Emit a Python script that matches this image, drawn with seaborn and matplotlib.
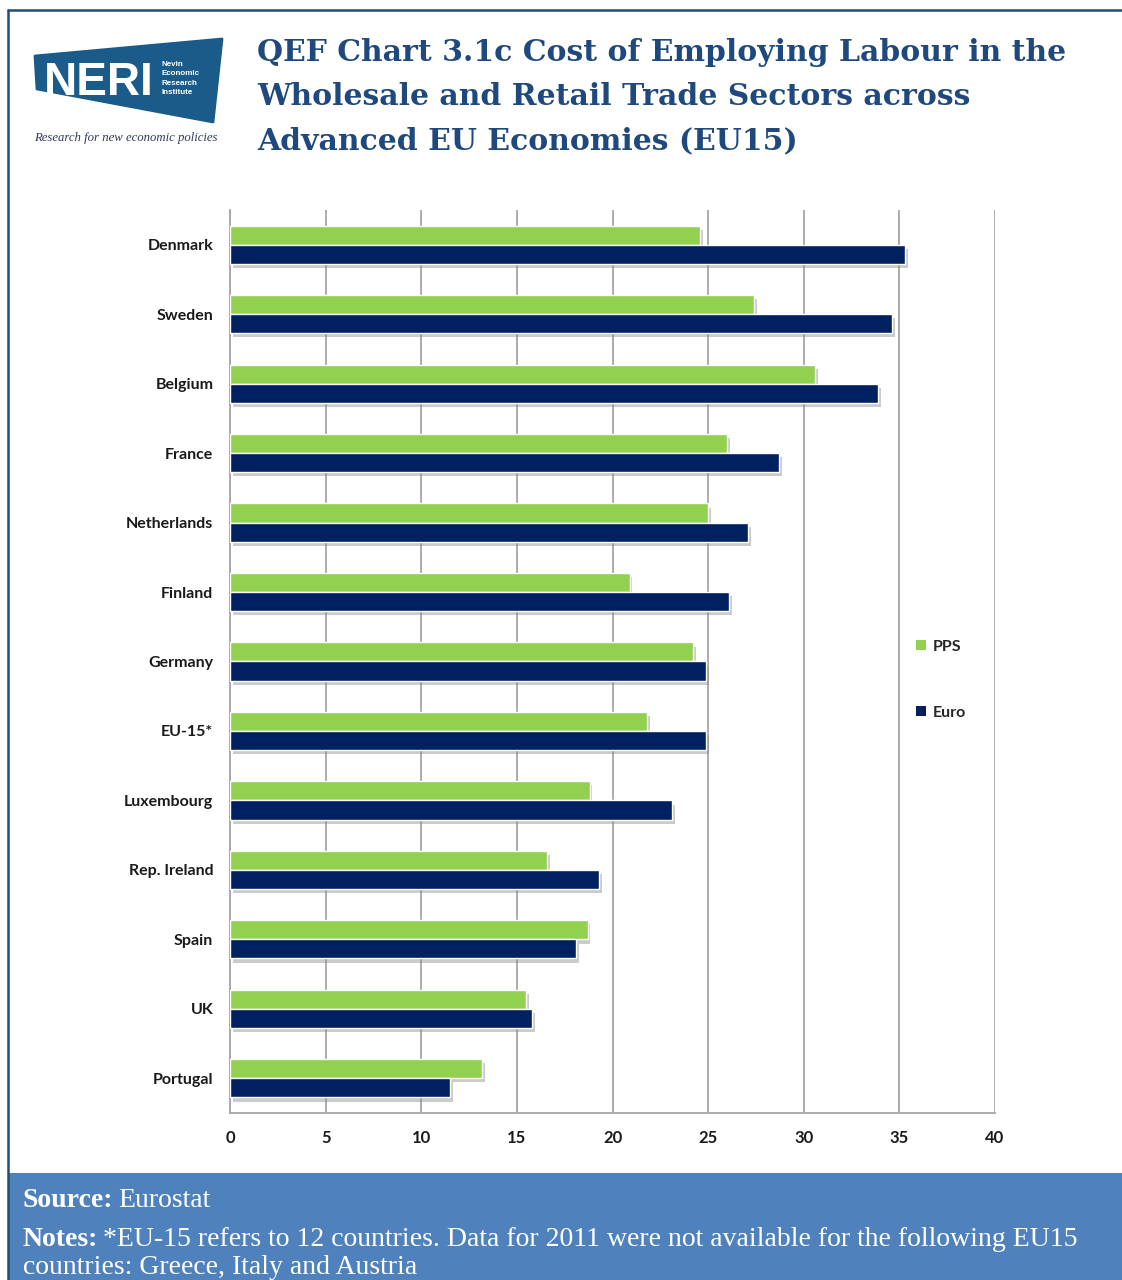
import matplotlib
matplotlib.use("Agg")
import matplotlib.pyplot as plt
import matplotlib.patheffects as pe
from matplotlib.patches import Polygon, Rectangle, Patch
from matplotlib.lines import Line2D
import seaborn as sns
import pandas as pd
import numpy as np

# ---------------- data ----------------
countries = ["Denmark", "Sweden", "Belgium", "France", "Netherlands", "Finland",
             "Germany", "EU-15*", "Luxembourg", "Rep. Ireland", "Spain", "UK", "Portugal"]
pps = [24.6, 27.4, 30.6, 26.0, 25.0, 20.9, 24.2, 21.8, 18.8, 16.6, 18.7, 15.5, 13.2]
euro = [35.3, 34.6, 33.9, 28.7, 27.1, 26.1, 24.9, 24.9, 23.1, 19.3, 18.1, 15.8, 11.5]
series_names = ["PPS", "Euro"]
x_ticks = [0, 5, 10, 15, 20, 25, 30, 35, 40]

title_lines = ["QEF Chart 3.1c Cost of Employing Labour in the",
               "Wholesale and Retail Trade Sectors across",
               "Advanced EU Economies (EU15)"]

GREEN = "#92D050"
NAVY = "#002060"
GRID = "#A6A6A6"
TITLE_C = "#1F497D"
FOOT_C = "#4F81BD"

df = pd.DataFrame({"Country": countries, "PPS": pps, "Euro": euro})
long = df.melt(id_vars="Country", value_vars=series_names, var_name="Measure", value_name="Value")

sns.set_style("white")
plt.rcParams["font.family"] = ["Lato", "DejaVu Sans"]

W, H = 1122, 1280
fig = plt.figure(figsize=(W / 100, H / 100), dpi=100)

ax = fig.add_axes([230 / W, 1 - 1113 / H, (995 - 230) / W, (1113 - 210) / H])
sns.barplot(data=long, y="Country", x="Value", hue="Measure", hue_order=series_names,
            order=countries, palette=[GREEN, NAVY], orient="h", width=0.55, saturation=1,
            edgecolor="white", linewidth=1.0, legend=False, ax=ax, zorder=3)

for p in ax.patches:
    p.set_path_effects([pe.SimplePatchShadow(offset=(2, -3), shadow_rgbFace="#8c8c8c", alpha=0.45),
                        pe.Normal()])

ax.set_xlim(0, 40)
ax.set_ylim(len(countries) - 0.5, -0.5)
ax.set_xticks(x_ticks)
ax.set_xticklabels([str(t) for t in x_ticks])
ax.set_axisbelow(True)
ax.xaxis.grid(True, color=GRID, lw=1.3)
ax.yaxis.grid(False)
ax.set_xlabel("")
ax.set_ylabel("")
for s in ["top", "right"]:
    ax.spines[s].set_visible(False)
for s in ["left", "bottom"]:
    ax.spines[s].set_color(GRID)
    ax.spines[s].set_linewidth(1.3)

ax.set_yticks(np.arange(len(countries)))
ax.set_yticklabels(countries)
ax.set_yticks(np.arange(len(countries) + 1) - 0.5, minor=True)
ax.tick_params(axis="y", which="major", length=0, pad=12, labelsize=11.5, labelcolor="#1a1a1a")
ax.tick_params(axis="y", which="minor", length=4, width=1.2, color=GRID, direction="out")
ax.tick_params(axis="x", which="major", length=4, width=1.2, color=GRID, direction="out",
               pad=8, labelsize=12, labelcolor="#1a1a1a")
for lab in ax.get_yticklabels() + ax.get_xticklabels():
    lab.set_fontweight("bold")

handles = [Patch(facecolor=GREEN, edgecolor="none"), Patch(facecolor=NAVY, edgecolor="none")]
ax.legend(handles, series_names, loc="center left", bbox_to_anchor=(0.897, 0.48),
          frameon=False, handlelength=0.6, handleheight=0.6, handletextpad=0.45,
          labelspacing=3.25, borderaxespad=0, borderpad=0,
          prop={"family": ["Lato", "DejaVu Sans"], "weight": "bold", "size": 11.5})

# --------------- overlay in pixel coordinates ---------------
ov = fig.add_axes([0, 0, 1, 1])
ov.set_xlim(0, W)
ov.set_ylim(H, 0)
ov.axis("off")

# border
ov.add_line(Line2D([8, W], [10, 10], color="#1F4E79", lw=1.8))
ov.add_line(Line2D([8, 8], [10, H], color="#1F4E79", lw=1.8))

# logo
ov.add_patch(Polygon([(35, 56), (222, 39), (213, 122), (37, 89)], closed=True,
                     facecolor="#1B5B8A", edgecolor="#1B5B8A", lw=2, joinstyle="round"))
ov.text(44, 95, "NERI", color="white", fontsize=33, fontweight="bold",
        family=["Liberation Sans", "DejaVu Sans"], va="baseline", ha="left")
for i, w in enumerate(["Nevin", "Economic", "Research", "Institute"]):
    ov.text(162, 66 + 9.3 * i, w, color="white", fontsize=5.8, fontweight="bold",
            family=["Liberation Sans", "DejaVu Sans"], va="baseline", ha="left")
ov.text(126, 138, "Research for new economic policies", color="#2E3B57", fontsize=9.2,
        style="italic", family=["Liberation Serif", "DejaVu Serif"], va="center", ha="center")

# title
renderer = fig.canvas.get_renderer()
for i, line in enumerate(title_lines):
    ov.text(257, 61 + 44 * i, line, color=TITLE_C, fontsize=21.5, fontweight="bold",
            family=["DejaVu Serif"], va="baseline", ha="left")

# footer
ov.add_patch(Rectangle((8, 1173), W - 8, H - 1173, facecolor=FOOT_C, edgecolor="none"))
fkw = dict(color="white", fontsize=20, family=["Liberation Serif", "DejaVu Serif"], va="baseline")


def mixed(x, y, bold, rest):
    t = ov.text(x, y, bold, fontweight="bold", **fkw)
    bb = t.get_window_extent(renderer=renderer)
    ov.text(x + bb.width + 5, y, rest, **fkw)


mixed(23, 1207, "Source:", "Eurostat")
mixed(23, 1246, "Notes:", "*EU-15 refers to 12 countries. Data for 2011 were not available for the following EU15")
ov.text(23, 1274, "countries: Greece, Italy and Austria", **fkw)

fig.savefig("out.png", dpi=100, facecolor="white")
